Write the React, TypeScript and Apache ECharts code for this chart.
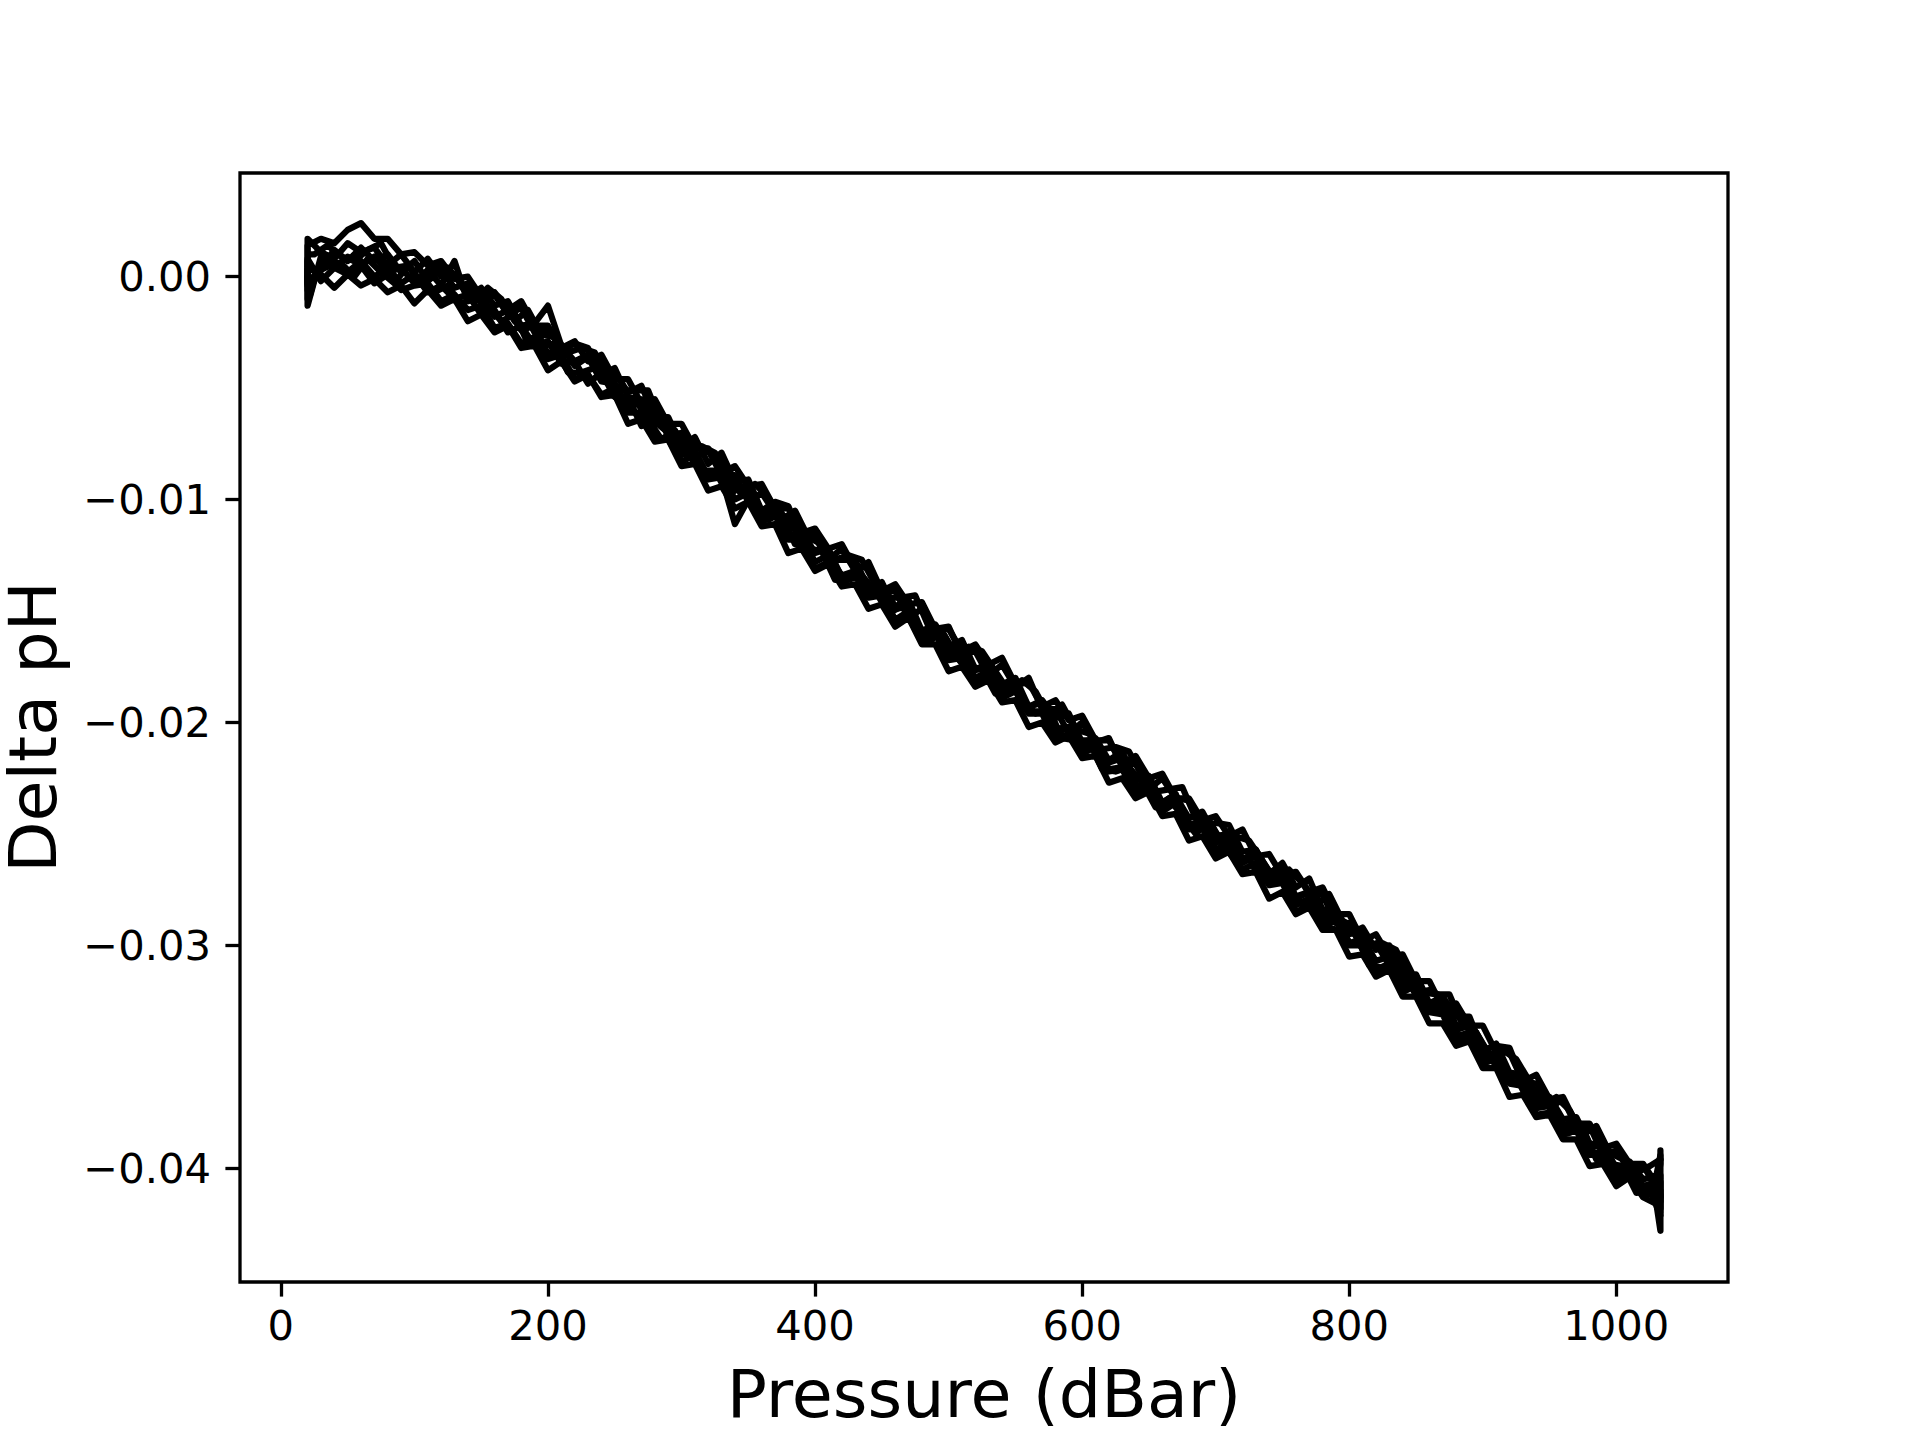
import React, { useEffect, useRef } from "react";
import * as echarts from "echarts";

// Pressure grid (dBar) shared by profiles A–G
const PRESSURE = [
  20, 20, 30, 40, 50, 60, 70, 80, 90, 100, 110, 120, 130, 140, 150, 160, 170, 180, 190, 200,
  210, 220, 230, 240, 250, 260, 270, 280, 290, 300,
  310, 320, 330, 340, 350, 360, 370, 380, 390, 400,
  410, 420, 430, 440, 450, 460, 470, 480, 490, 500,
  510, 520, 530, 540, 550, 560, 570, 580, 590, 600,
  610, 620, 630, 640, 650, 660, 670, 680, 690, 700,
  710, 720, 730, 740, 750, 760, 770, 780, 790, 800,
  810, 820, 830, 840, 850, 860, 870, 880, 890, 900,
  910, 920, 930, 940, 950, 960, 970, 980, 990, 1000,
  1010, 1020, 1030, 1033, 1033,
];

// Pressure grid (dBar) of profiles H and I (sampled in between)
const PRESSURE_2 = [
  22, 25, 35, 45, 55, 65, 75, 85, 95, 105, 115, 125, 135, 145, 155, 165, 175, 185, 195,
  205, 215, 225, 235, 245, 255, 265, 275, 285, 295,
  305, 315, 325, 335, 345, 355, 365, 375, 385, 395,
  405, 415, 425, 435, 445, 455, 465, 475, 485, 495,
  505, 515, 525, 535, 545, 555, 565, 575, 585, 595,
  605, 615, 625, 635, 645, 655, 665, 675, 685, 695,
  705, 715, 725, 735, 745, 755, 765, 775, 785, 795,
  805, 815, 825, 835, 845, 855, 865, 875, 885, 895,
  905, 915, 925, 935, 945, 955, 965, 975, 985, 995,
  1005, 1015, 1025, 1033,
];

const PROFILE_A = [
  -0.0002, 0.0014, 0.0017, 0.0015, 0.0021, 0.0024, 0.0017, 0.0017, 0.0010, 0.0011, 0.0005, 0.0007, -0.0001, 0.0000, -0.0009, -0.0007, -0.0015, -0.0011, -0.0022, -0.0022,
  -0.0033, -0.0030, -0.0032, -0.0046, -0.0043, -0.0052, -0.0049, -0.0063, -0.0063, -0.0076,
  -0.0072, -0.0084, -0.0079, -0.0092, -0.0091, -0.0105, -0.0101, -0.0103, -0.0117, -0.0117,
  -0.0127, -0.0122, -0.0132, -0.0128, -0.0141, -0.0141, -0.0153, -0.0149, -0.0158, -0.0157,
  -0.0170, -0.0168, -0.0179, -0.0174, -0.0184, -0.0180, -0.0194, -0.0194, -0.0205, -0.0200,
  -0.0209, -0.0207, -0.0220, -0.0218, -0.0230, -0.0225, -0.0234, -0.0235, -0.0248, -0.0245,
  -0.0246, -0.0258, -0.0257, -0.0268, -0.0263, -0.0274, -0.0270, -0.0284, -0.0284, -0.0295,
  -0.0292, -0.0302, -0.0300, -0.0314, -0.0313, -0.0326, -0.0323, -0.0332, -0.0332, -0.0347,
  -0.0345, -0.0346, -0.0361, -0.0362, -0.0373, -0.0369, -0.0381, -0.0381, -0.0394, -0.0392,
  -0.0401, -0.0399, -0.0408, -0.0398, -0.0392,
];

const PROFILE_B = [
  0.0005, 0.0017, 0.0011, 0.0008, 0.0015, 0.0011, 0.0013, 0.0005, 0.0010, 0.0002, 0.0008, 0.0000, 0.0001, -0.0009, -0.0005, -0.0013, -0.0011, -0.0022, -0.0021, -0.0013,
  -0.0031, -0.0038, -0.0035, -0.0044, -0.0041, -0.0054, -0.0055, -0.0057, -0.0072, -0.0070,
  -0.0081, -0.0078, -0.0089, -0.0089, -0.0101, -0.0097, -0.0106, -0.0108, -0.0119, -0.0115,
  -0.0127, -0.0127, -0.0127, -0.0140, -0.0138, -0.0148, -0.0145, -0.0159, -0.0156, -0.0166,
  -0.0163, -0.0176, -0.0174, -0.0183, -0.0180, -0.0193, -0.0190, -0.0198, -0.0196, -0.0209,
  -0.0207, -0.0217, -0.0213, -0.0226, -0.0224, -0.0236, -0.0233, -0.0243, -0.0240, -0.0251,
  -0.0250, -0.0262, -0.0257, -0.0267, -0.0266, -0.0278, -0.0276, -0.0277, -0.0290, -0.0290,
  -0.0302, -0.0299, -0.0309, -0.0308, -0.0321, -0.0320, -0.0323, -0.0336, -0.0336, -0.0348,
  -0.0344, -0.0357, -0.0358, -0.0370, -0.0368, -0.0378, -0.0377, -0.0389, -0.0389, -0.0400,
  -0.0397, -0.0405, -0.0403, -0.0394, -0.0404,
];

const PROFILE_C = [
  0.0000, -0.0013, 0.0009, 0.0004, 0.0009, 0.0005, 0.0009, 0.0002, 0.0004, -0.0003, 0.0003, -0.0004, 0.0007, -0.0011, -0.0009, -0.0018, -0.0015, -0.0024, -0.0022, -0.0035,
  -0.0031, -0.0040, -0.0036, -0.0047, -0.0048, -0.0059, -0.0056, -0.0066, -0.0066, -0.0079,
  -0.0078, -0.0090, -0.0086, -0.0095, -0.0094, -0.0106, -0.0105, -0.0117, -0.0114, -0.0124,
  -0.0122, -0.0135, -0.0132, -0.0141, -0.0137, -0.0149, -0.0148, -0.0160, -0.0159, -0.0169,
  -0.0166, -0.0176, -0.0175, -0.0187, -0.0184, -0.0193, -0.0191, -0.0203, -0.0202, -0.0213,
  -0.0208, -0.0218, -0.0216, -0.0229, -0.0227, -0.0236, -0.0232, -0.0246, -0.0244, -0.0254,
  -0.0251, -0.0261, -0.0260, -0.0272, -0.0269, -0.0279, -0.0276, -0.0286, -0.0286, -0.0299,
  -0.0297, -0.0307, -0.0305, -0.0316, -0.0314, -0.0328, -0.0328, -0.0338, -0.0336, -0.0351,
  -0.0348, -0.0358, -0.0358, -0.0371, -0.0371, -0.0381, -0.0378, -0.0390, -0.0390, -0.0402,
  -0.0400, -0.0408, -0.0406, -0.0403, -0.0413,
];

const PROFILE_D = [
  0.0003, -0.0006, 0.0003, 0.0006, 0.0002, 0.0007, 0.0000, 0.0004, -0.0003, 0.0001, -0.0007, -0.0004, -0.0010, -0.0008, -0.0017, -0.0015, -0.0025, -0.0022, -0.0031, -0.0029,
  -0.0039, -0.0038, -0.0048, -0.0043, -0.0054, -0.0054, -0.0067, -0.0065, -0.0070, -0.0080,
  -0.0078, -0.0090, -0.0089, -0.0100, -0.0097, -0.0107, -0.0104, -0.0117, -0.0117, -0.0128,
  -0.0125, -0.0134, -0.0132, -0.0143, -0.0142, -0.0154, -0.0150, -0.0160, -0.0159, -0.0171,
  -0.0170, -0.0180, -0.0177, -0.0186, -0.0183, -0.0195, -0.0195, -0.0205, -0.0202, -0.0211,
  -0.0209, -0.0221, -0.0220, -0.0231, -0.0228, -0.0237, -0.0235, -0.0247, -0.0246, -0.0257,
  -0.0254, -0.0263, -0.0260, -0.0272, -0.0271, -0.0282, -0.0279, -0.0288, -0.0287, -0.0299,
  -0.0299, -0.0311, -0.0308, -0.0318, -0.0317, -0.0329, -0.0330, -0.0341, -0.0339, -0.0350,
  -0.0348, -0.0361, -0.0362, -0.0373, -0.0372, -0.0382, -0.0381, -0.0393, -0.0393, -0.0404,
  -0.0401, -0.0409, -0.0409, -0.0406, -0.0418,
];

const PROFILE_E = [
  -0.0004, 0.0008, -0.0002, 0.0004, 0.0001, 0.0005, -0.0003, 0.0001, -0.0006, -0.0004, -0.0003, -0.0011, -0.0008, -0.0015, -0.0013, -0.0023, -0.0021, -0.0030, -0.0027, -0.0037,
  -0.0035, -0.0046, -0.0044, -0.0053, -0.0050, -0.0061, -0.0061, -0.0073, -0.0073, -0.0083,
  -0.0080, -0.0091, -0.0090, -0.0111, -0.0100, -0.0110, -0.0107, -0.0118, -0.0118, -0.0131,
  -0.0128, -0.0137, -0.0134, -0.0144, -0.0143, -0.0155, -0.0153, -0.0163, -0.0160, -0.0172,
  -0.0171, -0.0182, -0.0180, -0.0189, -0.0186, -0.0196, -0.0196, -0.0208, -0.0205, -0.0214,
  -0.0211, -0.0222, -0.0221, -0.0232, -0.0231, -0.0240, -0.0236, -0.0248, -0.0247, -0.0259,
  -0.0257, -0.0266, -0.0263, -0.0273, -0.0272, -0.0285, -0.0282, -0.0291, -0.0289, -0.0300,
  -0.0300, -0.0312, -0.0311, -0.0321, -0.0318, -0.0330, -0.0331, -0.0343, -0.0342, -0.0353,
  -0.0351, -0.0362, -0.0363, -0.0376, -0.0375, -0.0385, -0.0383, -0.0394, -0.0394, -0.0406,
  -0.0404, -0.0412, -0.0411, -0.0420, -0.0410,
];

const PROFILE_F = [
  -0.0010, 0.0004, 0.0001, -0.0005, 0.0001, -0.0004, -0.0001, -0.0007, -0.0004, -0.0012, -0.0006, -0.0013, -0.0010, -0.0020, -0.0017, -0.0025, -0.0022, -0.0032, -0.0031, -0.0042,
  -0.0038, -0.0047, -0.0044, -0.0054, -0.0053, -0.0066, -0.0064, -0.0074, -0.0073, -0.0085,
  -0.0084, -0.0096, -0.0094, -0.0104, -0.0101, -0.0112, -0.0111, -0.0124, -0.0122, -0.0132,
  -0.0129, -0.0139, -0.0138, -0.0149, -0.0147, -0.0157, -0.0153, -0.0165, -0.0165, -0.0177,
  -0.0175, -0.0184, -0.0181, -0.0191, -0.0190, -0.0202, -0.0200, -0.0209, -0.0206, -0.0216,
  -0.0215, -0.0227, -0.0225, -0.0234, -0.0231, -0.0242, -0.0241, -0.0253, -0.0251, -0.0261,
  -0.0258, -0.0268, -0.0267, -0.0279, -0.0276, -0.0286, -0.0283, -0.0293, -0.0293, -0.0305,
  -0.0304, -0.0314, -0.0311, -0.0323, -0.0323, -0.0335, -0.0335, -0.0345, -0.0343, -0.0355,
  -0.0355, -0.0368, -0.0367, -0.0377, -0.0376, -0.0387, -0.0387, -0.0399, -0.0398, -0.0408,
  -0.0404, -0.0413, -0.0416, -0.0428, -0.0412,
];

const PROFILE_G = [
  0.0007, -0.0003, 0.0004, 0.0012, 0.0007, 0.0013, 0.0007, 0.0010, 0.0002, 0.0007, -0.0002, 0.0003, -0.0005, -0.0003, -0.0012, -0.0008, -0.0017, -0.0014, -0.0025, -0.0024,
  -0.0032, -0.0029, -0.0038, -0.0035, -0.0046, -0.0046, -0.0057, -0.0055, -0.0066, -0.0066,
  -0.0077, -0.0077, -0.0088, -0.0085, -0.0094, -0.0093, -0.0104, -0.0104, -0.0115, -0.0113,
  -0.0122, -0.0120, -0.0131, -0.0130, -0.0141, -0.0138, -0.0147, -0.0146, -0.0158, -0.0158,
  -0.0168, -0.0165, -0.0174, -0.0171, -0.0183, -0.0182, -0.0193, -0.0190, -0.0199, -0.0197,
  -0.0208, -0.0208, -0.0219, -0.0215, -0.0225, -0.0223, -0.0234, -0.0234, -0.0244, -0.0242,
  -0.0251, -0.0248, -0.0260, -0.0259, -0.0269, -0.0267, -0.0276, -0.0274, -0.0286, -0.0286,
  -0.0298, -0.0295, -0.0305, -0.0304, -0.0316, -0.0316, -0.0328, -0.0326, -0.0336, -0.0336,
  -0.0348, -0.0348, -0.0361, -0.0358, -0.0369, -0.0368, -0.0380, -0.0380, -0.0391, -0.0389,
  -0.0398, -0.0398, -0.0407, -0.0415, -0.0405,
];

const PROFILE_H = [
  0.0010, 0.0010, 0.0014, 0.0009, 0.0007, 0.0012, 0.0015, 0.0004, 0.0005, -0.0002, 0.0004, 0.0004, -0.0003, -0.0011, -0.0005, -0.0010, -0.0020, -0.0015, -0.0026,
  -0.0027, -0.0034, -0.0032, -0.0034, -0.0045, -0.0051, -0.0051, -0.0051, -0.0066, -0.0069,
  -0.0079, -0.0076, -0.0079, -0.0088, -0.0098, -0.0093, -0.0099, -0.0109, -0.0105, -0.0117,
  -0.0120, -0.0127, -0.0125, -0.0127, -0.0138, -0.0144, -0.0144, -0.0143, -0.0157, -0.0159,
  -0.0169, -0.0166, -0.0168, -0.0177, -0.0186, -0.0181, -0.0186, -0.0197, -0.0192, -0.0203,
  -0.0205, -0.0212, -0.0211, -0.0213, -0.0224, -0.0231, -0.0230, -0.0229, -0.0243, -0.0244,
  -0.0254, -0.0251, -0.0253, -0.0262, -0.0271, -0.0266, -0.0272, -0.0282, -0.0277, -0.0289,
  -0.0292, -0.0300, -0.0299, -0.0302, -0.0314, -0.0321, -0.0322, -0.0322, -0.0336, -0.0339,
  -0.0349, -0.0347, -0.0351, -0.0361, -0.0372, -0.0368, -0.0374, -0.0385, -0.0381, -0.0393,
  -0.0396, -0.0402, -0.0399, -0.0396,
];

const PROFILE_I = [
  -0.0008, -0.0001, 0.0007, 0.0006, 0.0000, 0.0008, 0.0002, -0.0003, 0.0005, -0.0003, -0.0007, -0.0004, -0.0013, -0.0007, -0.0013, -0.0020, -0.0017, -0.0030, -0.0031,
  -0.0030, -0.0043, -0.0043, -0.0041, -0.0048, -0.0058, -0.0055, -0.0064, -0.0073, -0.0069,
  -0.0080, -0.0087, -0.0087, -0.0098, -0.0094, -0.0101, -0.0109, -0.0106, -0.0120, -0.0122,
  -0.0123, -0.0136, -0.0136, -0.0134, -0.0141, -0.0151, -0.0148, -0.0156, -0.0164, -0.0159,
  -0.0170, -0.0177, -0.0176, -0.0187, -0.0182, -0.0189, -0.0196, -0.0194, -0.0207, -0.0208,
  -0.0208, -0.0221, -0.0222, -0.0220, -0.0227, -0.0238, -0.0234, -0.0242, -0.0250, -0.0244,
  -0.0255, -0.0262, -0.0261, -0.0272, -0.0267, -0.0274, -0.0282, -0.0279, -0.0292, -0.0294,
  -0.0295, -0.0309, -0.0310, -0.0309, -0.0317, -0.0328, -0.0326, -0.0335, -0.0343, -0.0339,
  -0.0350, -0.0358, -0.0359, -0.0371, -0.0368, -0.0376, -0.0384, -0.0382, -0.0396, -0.0398,
  -0.0399, -0.0411, -0.0410, -0.0421,
];

const X_TICKS = [0, 200, 400, 600, 800, 1000];
const Y_TICKS = [-0.04, -0.03, -0.02, -0.01, 0];
const X_TITLE = "Pressure (dBar)";
const Y_TITLE = "Delta pH";

const FONT = "DejaVu Sans";

export default function App() {
  const ref = useRef<HTMLDivElement>(null);

  useEffect(() => {
    document.body.style.margin = "0";
    if (!ref.current) return;
    const chart = echarts.init(ref.current, null, { renderer: "svg" });
    const profiles: [number[], number[]][] = [
      [PRESSURE, PROFILE_A],
      [PRESSURE_2, PROFILE_H],
      [PRESSURE, PROFILE_B],
      [PRESSURE, PROFILE_C],
      [PRESSURE_2, PROFILE_I],
      [PRESSURE, PROFILE_D],
      [PRESSURE, PROFILE_E],
      [PRESSURE, PROFILE_F],
      [PRESSURE, PROFILE_G],
    ];

    const fmtY = (v: number) => {
      const s = Math.abs(v).toFixed(2);
      return v < -1e-9 ? "\u2212" + s : s;
    };

    chart.setOption({
      animation: false,
      backgroundColor: "#ffffff",
      grid: {
        left: 240,
        top: 173,
        width: 1488,
        height: 1109,
        show: true,
        borderColor: "#000",
        borderWidth: 3.3,
        backgroundColor: "transparent",
        containLabel: false,
      },
      xAxis: {
        type: "value",
        position: "bottom",
        min: -30.6,
        max: 1083.6,
        axisLine: { show: false, onZero: false },
        splitLine: { show: false },
        axisTick: {
          show: true,
          inside: false,
          customValues: X_TICKS,
          length: 14.6,
          lineStyle: { color: "#000", width: 3.3 },
        },
        axisLabel: {
          customValues: X_TICKS,
          margin: 22,
          fontSize: 41.7,
          fontFamily: FONT,
          color: "#000",
          formatter: (v: number) => String(v),
        },
      },
      yAxis: {
        type: "value",
        position: "left",
        min: -0.0451,
        max: 0.00465,
        axisLine: { show: false, onZero: false },
        splitLine: { show: false },
        axisTick: {
          show: true,
          inside: false,
          customValues: Y_TICKS,
          length: 14.6,
          lineStyle: { color: "#000", width: 3.3 },
        },
        axisLabel: {
          customValues: Y_TICKS,
          margin: 29,
          fontSize: 41.7,
          fontFamily: FONT,
          color: "#000",
          formatter: fmtY,
        },
      },
      graphic: [
        {
          type: "text",
          x: 984,
          y: 1394,
          style: {
            text: X_TITLE,
            fontSize: 66.7,
            fontFamily: FONT,
            fill: "#000",
            textAlign: "center",
            textVerticalAlign: "middle",
          },
        },
        {
          type: "text",
          x: 33,
          y: 727,
          rotation: Math.PI / 2,
          style: {
            text: Y_TITLE,
            fontSize: 66.7,
            fontFamily: FONT,
            fill: "#000",
            textAlign: "center",
            textVerticalAlign: "middle",
          },
        },
      ],
      series: profiles.map(([press, vals], k) => ({
        type: "line",
        name: "profile" + (k + 1),
        data: vals.slice(0, press.length).map((v, i) => [press[i], v]),
        symbol: "none",
        showSymbol: false,
        silent: true,
        clip: true,
        lineStyle: { color: "#000", width: 6.25, join: "round", cap: "round" },
      })),
    });

    return () => chart.dispose();
  }, []);

  return <div ref={ref} style={{ width: 1920, height: 1440 }} />;
}
